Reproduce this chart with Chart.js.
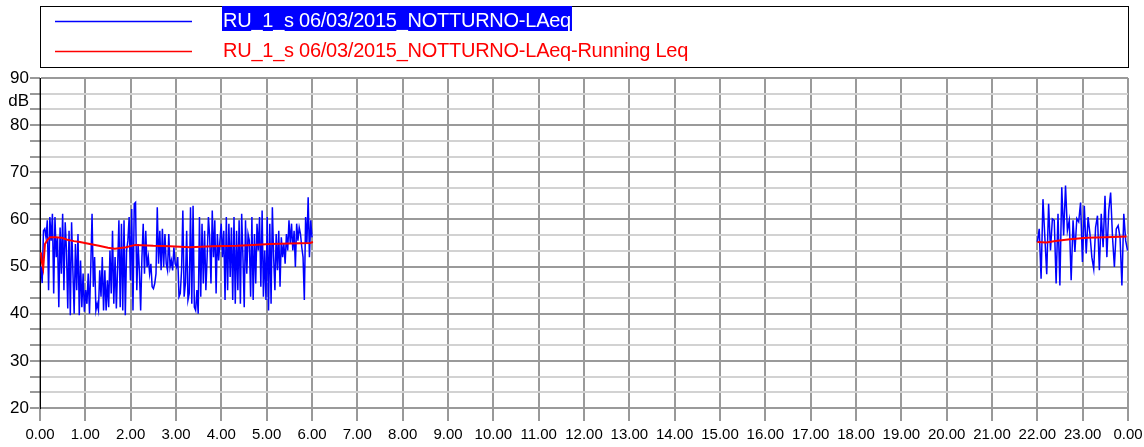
<!DOCTYPE html>
<html>
<head>
<meta charset="utf-8">
<script src="https://cdn.jsdelivr.net/npm/chart.js@4.4.1/dist/chart.umd.min.js"></script>
<style>
  html, body { margin: 0; padding: 0; background: #fff; }
  #wrap { width: 1144px; height: 447px; position: relative; }
</style>
</head>
<body>
<div id="wrap"><canvas id="myChart"></canvas></div>
<script>
// labels under the time axis (midnight to midnight)
const hourLabels = ['0.00', '1.00', '2.00', '3.00', '4.00', '5.00', '6.00', '7.00', '8.00', '9.00',
    '10.00', '11.00', '12.00', '13.00', '14.00', '15.00', '16.00', '17.00', '18.00', '19.00',
    '20.00', '21.00', '22.00', '23.00', '0.00'];
// labelled dB levels on the left axis
const dbLabels = [20, 30, 40, 50, 60, 70, 80, 90];

const seriesNames = ['RU_1_s 06/03/2015_NOTTURNO-LAeq', 'RU_1_s 06/03/2015_NOTTURNO-LAeq-Running Leq'];

// LAeq samples, first block (00:00 - 06:00)
const laeqBlock1 = [
    50, 46.5, 57.6, 58, 56.2, 59.8, 45, 60.5, 55.5, 61.2, 44.3, 60.5, 52, 56.2, 41.4, 58.3, 48.5, 61.2, 45, 59.4,
    53.4, 41.1, 57.6, 39.7, 59.4, 49.2, 40, 54.8, 45, 56.9, 39.7, 51.3, 41.4, 48.5, 40.4, 45, 42.1, 48.5, 40, 49.9,
    61.2, 45.7, 52, 40.7, 42.1, 40.7, 49.2, 43.6, 52, 40.7, 49.2, 40.7, 47.1, 41.4, 53.4, 44.3,
    57.6, 42.1, 52, 41.1, 49.9, 59.8, 41.4, 59.1, 40.7, 59.8, 39.7, 53.4, 55.5, 60.5, 47.1, 62.2, 40.7, 63.3, 63.6, 45,
    54.8, 49.2, 40.7, 52, 59.1, 48.5, 57.6, 49.9, 52, 48.5, 50.6, 45.7, 45.3, 46.4, 48.5, 62.6, 50.6, 57.6, 49.2, 58,
    49.9, 56.9, 50.6, 49.2, 56.9, 49.9, 51.3, 49.2, 54.1, 50.6, 49.9, 52, 43.6, 44.3,
    49.2, 61.9, 43.6, 46.4, 57.6, 42.9, 44.3, 62.6, 42.1, 62.9, 41.4, 40.7, 45, 40, 60.5, 43.6, 59.1, 46.4, 57.6, 45,
    52, 60.5, 56.2, 46.4, 61.9, 52, 59.8, 44.3, 56.9, 51.3, 55.5, 59.1, 52, 57.6, 42.9, 60.5, 45, 59.1, 47.8, 58.3,
    42.9, 60.5, 42.1, 57.6, 45, 59.8, 42.1, 61.2, 52, 41.4, 59.8, 48.5, 56.9,
    55.5, 43.6, 60.5, 42.9, 56.9, 46.4, 59.1, 53.4, 60.5, 45.7, 61.9, 43.6, 53.4, 42.9, 60.5, 40.7, 59.1, 42.1, 62.6, 52,
    45, 56.9, 49.2, 57.6, 45.7, 56.2, 52, 54.8, 50.6, 56.9, 53.4, 59.8, 54.8, 59.1, 53.4, 57.6, 49.9, 59.1, 55.5, 58.3,
    56.9, 54.1, 52, 42.9, 60.5, 54.8, 64.7, 52, 59.8, 56.2
];
const block1Start = 0.02;   // hours
const block1End = 6.0;

// LAeq samples, second block (22:00 - 24:00)
const laeqBlock2 = [
    55.2, 58, 47.4, 64.3, 56.2, 48.4, 63.3, 53.4, 60.1, 59.8, 46.4, 61.2, 46, 66.8, 56.6, 67.2, 57.6, 59.8, 47.1, 59.8,
    53.1, 60.2, 59.5, 63.6, 51, 62.9, 52.8, 60.5, 56.9, 52, 49.5, 58.3, 60.8, 49.2, 61.2, 54.1, 65, 52, 61.9, 65.7,
    56.2, 49.9, 58, 58.7, 56.2, 46, 61.2, 55.5, 53.4
];
const block2Start = 22.0;
const block2End = 23.99;

// running Leq
const runHours1 = [0.02, 0.04, 0.07, 0.11, 0.16, 0.22, 0.35, 0.48, 0.6, 0.75, 0.88, 1.1, 1.3, 1.5, 1.65, 1.9,
    2.1, 2.5, 2.87, 3.31, 3.8, 4.34, 4.7, 5.07, 5.5, 5.96, 6.02];
const runLeq1 = [53, 51, 49.6, 54.8, 55.6, 56.2, 56.2, 56.1, 55.7, 55.4, 55.2, 54.8, 54.4, 54.0, 53.8, 54.1,
    54.6, 54.4, 54.3, 54.1, 54.3, 54.4, 54.6, 54.8, 54.9, 55.0, 55.2];
const runHours2 = [22.0, 22.2, 22.4, 22.72, 23.09, 23.5, 23.97];
const runLeq2 = [55.2, 55.1, 55.4, 55.8, 56.1, 56.2, 56.4];

function spread(values, from, to) {
    const step = (to - from) / (values.length - 1);
    return values.map((v, i) => ({ x: from + i * step, y: v }));
}
function pairUp(hours, values) {
    return hours.map((h, i) => ({ x: h, y: values[i] }));
}
const gap = [{ x: 14, y: null }];

function isMajor(v) {
    const r = Math.round(v);
    return Math.abs(v - r) < 1e-6 && dbLabels.includes(r);
}

const tickFont = { family: '"Liberation Sans", Arial, sans-serif', size: 17 };

// draws the boxed legend and the "dB" unit
const legendBox = {
    id: 'legendBox',
    afterDraw(chart) {
        const ctx = chart.ctx;
        const a = chart.chartArea;
        ctx.save();
        ctx.strokeStyle = '#000';
        ctx.lineWidth = 1;
        ctx.strokeRect(a.left + 0.5, 6.5, a.right - a.left, 61);
        ctx.font = '20px "Liberation Sans", Arial, sans-serif';
        ctx.letterSpacing = '-0.25px';
        chart.data.datasets.forEach((ds, i) => {
            const y = 21.5 + i * 30;
            ctx.strokeStyle = ds.borderColor;
            ctx.lineWidth = 1.5;
            ctx.beginPath();
            ctx.moveTo(55, y);
            ctx.lineTo(192, y);
            ctx.stroke();
            const w = ctx.measureText(ds.label).width;
            if (i === 0) {
                ctx.fillStyle = ds.borderColor;
                ctx.fillRect(222, 6, w + 2, 25);
                ctx.fillStyle = '#fff';
            } else {
                ctx.fillStyle = ds.borderColor;
            }
            ctx.fillText(ds.label, 223, y + 5);
        });
        ctx.letterSpacing = '0px';
        ctx.font = '17px "Liberation Sans", Arial, sans-serif';
        ctx.fillStyle = '#000';
        ctx.textAlign = 'right';
        ctx.textBaseline = 'middle';
        ctx.fillText('dB', 29, chart.scales.y.getPixelForValue(85));
        ctx.restore();
    }
};

const ctx1 = document.getElementById('myChart').getContext('2d');
new Chart(ctx1, {
    type: 'line',
    data: {
        datasets: [{
            label: seriesNames[0],
            data: spread(laeqBlock1, block1Start, block1End).concat(gap, spread(laeqBlock2, block2Start, block2End)),
            borderColor: '#0000ff',
            borderWidth: 1.5,
            pointRadius: 0,
            tension: 0,
            order: 2
        },
        {
            label: seriesNames[1],
            data: pairUp(runHours1, runLeq1).concat(gap, pairUp(runHours2, runLeq2)),
            borderColor: '#ff0000',
            borderWidth: 2,
            pointRadius: 0,
            tension: 0,
            order: 1
        }]
    },
    options: {
        responsive: true,
        maintainAspectRatio: false,
        animation: false,
        spanGaps: false,
        layout: { padding: { top: 78, right: 16, left: 0, bottom: 0 } },
        plugins: {
            legend: { display: false },
            tooltip: { enabled: false }
        },
        scales: {
            x: {
                type: 'linear',
                min: 0,
                max: 24,
                afterBuildTicks: s => { s.ticks = hourLabels.map((_, i) => ({ value: i })); },
                afterFit: s => { s.height = 39; s.paddingLeft = 0; s.paddingRight = 0; },
                ticks: {
                    callback: v => hourLabels[Math.round(v)],
                    autoSkip: false,
                    maxRotation: 0,
                    color: '#000',
                    padding: 5,
                    font: { family: '"Liberation Sans", Arial, sans-serif', size: 15 }
                },
                grid: { color: '#9a9a9a', lineWidth: 2, tickLength: 13, tickColor: '#333', tickWidth: 1 },
                border: { color: '#9a9a9a', width: 2 }
            },
            y: {
                min: 20,
                max: 90,
                afterBuildTicks: s => {
                    const t = [];
                    for (let k = 0; k <= 21; k++) t.push({ value: 20 + k * 10 / 3 });
                    s.ticks = t;
                },
                afterFit: s => { s.width = 40; },
                ticks: {
                    callback: v => isMajor(v) ? String(Math.round(v)) : '',
                    autoSkip: false,
                    color: '#000',
                    padding: 1,
                    font: tickFont
                },
                grid: {
                    color: c => isMajor(c.tick.value) ? '#9a9a9a' : '#d2d2d2',
                    lineWidth: 2,
                    tickLength: 10,
                    tickColor: '#333',
                    tickWidth: 1
                },
                border: { color: '#000', width: 1 }
            }
        }
    },
    plugins: [legendBox]
});
</script>
</body>
</html>
